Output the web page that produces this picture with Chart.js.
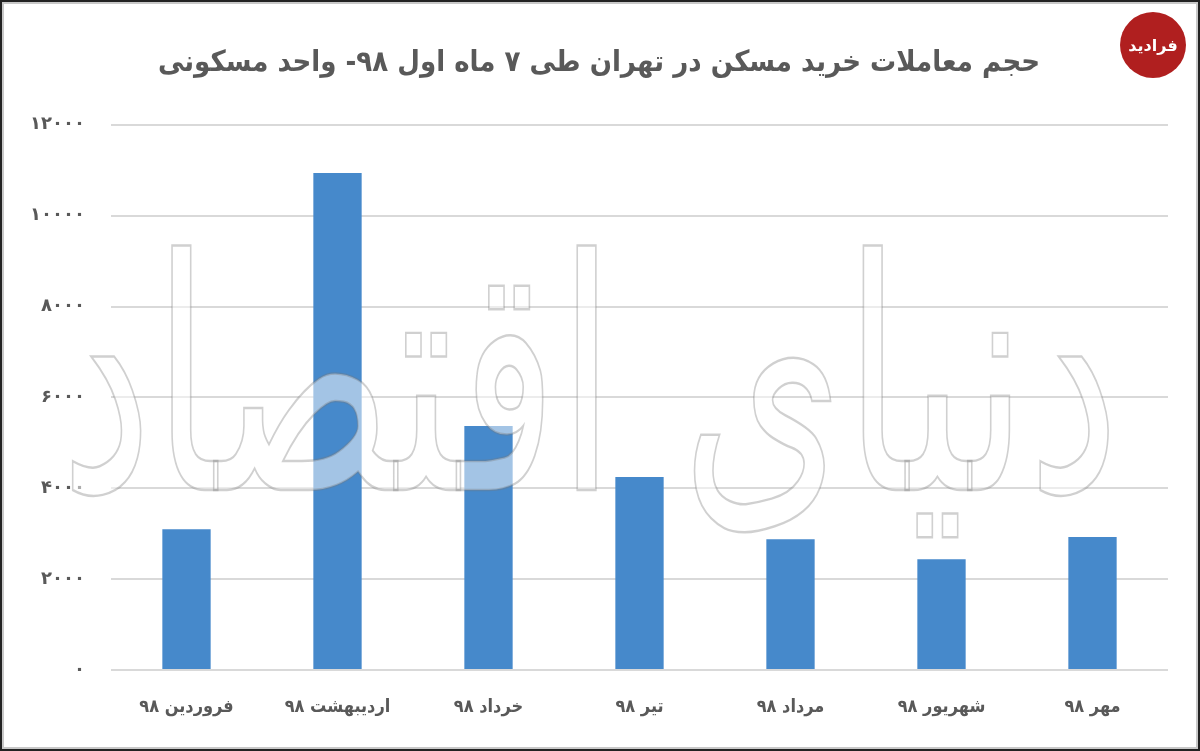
<!DOCTYPE html>
<html>
<head>
<meta charset="utf-8">
<script src="https://cdn.jsdelivr.net/npm/chart.js@4"></script>
<style>
    html, body { margin: 0; padding: 0; background: #fff; }
    #wrap { position: relative; width: 1200px; height: 751px; overflow: hidden; }
    #frame {
        position: absolute; left: 0; top: 0; right: 0; bottom: 0;
        border: 2px solid #222; box-shadow: inset 0 0 0 2px #c8c8c8;
        pointer-events: none;
    }
    #logo {
        position: absolute; left: 1120px; top: 12px; width: 66px; height: 66px;
        border-radius: 50%; background: #b01f1f; color: #fff;
        font: bold 16px 'DejaVu Sans', sans-serif; direction: rtl;
        display: flex; align-items: center; justify-content: center;
    }
</style>
</head>
<body>
<div id="wrap">
    <canvas id="chart" width="1200" height="751"></canvas>
    <div id="logo">فرادید</div>
    <div id="frame"></div>
</div>
<script>
// data
const months = ['فروردین ۹۸', 'اردیبهشت ۹۸', 'خرداد ۹۸', 'تیر ۹۸', 'مرداد ۹۸', 'شهریور ۹۸', 'مهر ۹۸'];
const deals = [3100, 10940, 5370, 4250, 2880, 2440, 2930];
const yTicks = [0, 2000, 4000, 6000, 8000, 10000, 12000];

const titleText = 'حجم معاملات خرید مسکن در تهران طی ۷ ماه اول ۹۸- واحد مسکونی';
const watermark = 'دنیای اقتصاد';
const fontFam = "'DejaVu Sans', sans-serif";
const narrowFam = "'DejaVu Sans Condensed', 'DejaVu Sans', sans-serif";

function toPersian(n) {
    const digits = '۰۱۲۳۴۵۶۷۸۹';
    return String(n).replace(/[0-9]/g, d => digits[d]);
}

// faint outlined watermark across the plot, stretched up like the original
const watermarkPlugin = {
    id: 'watermark',
    afterDatasetsDraw(chart) {
        const ctx = chart.ctx;
        ctx.save();
        ctx.direction = 'rtl';
        ctx.textAlign = 'center';
        ctx.textBaseline = 'alphabetic';
        let size = 200;
        ctx.font = `${size}px ${fontFam}`;
        const w = ctx.measureText(watermark).width;
        size = size * 1060 / w;
        ctx.font = `${size}px ${fontFam}`;
        ctx.translate(590, 490);
        ctx.scale(1, 1.55);
        ctx.fillStyle = 'rgba(255,255,255,0.5)';
        ctx.strokeStyle = 'rgba(120,120,120,0.35)';
        ctx.lineWidth = 1.6;
        ctx.fillText(watermark, 0, 0);
        ctx.strokeText(watermark, 0, 0);
        ctx.restore();
    }
};

new Chart(document.getElementById('chart'), {
    type: 'bar',
    data: {
        labels: months,
        datasets: [{
            data: deals,
            backgroundColor: '#4689cb',
            categoryPercentage: 1,
            barPercentage: 0.32
        }]
    },
    options: {
        responsive: false,
        animation: false,
        layout: { padding: { left: 30, right: 32, top: 0, bottom: 0 } },
        plugins: {
            legend: { display: false },
            tooltip: { enabled: false },
            title: {
                display: true,
                text: titleText,
                color: '#595959',
                font: { family: narrowFam, size: 29, weight: 'bold', lineHeight: 1.2 },
                padding: { top: 46, bottom: 44 }
            }
        },
        scales: {
            x: {
                afterFit(scale) { scale.height = 81; },
                grid: { display: false, drawTicks: false },
                border: { display: false },
                ticks: {
                    color: '#595959',
                    padding: 27,
                    font: { family: narrowFam, size: 18, weight: 'bold' }
                }
            },
            y: {
                min: 0,
                max: 12000,
                afterFit(scale) { scale.width = 81; },
                afterBuildTicks(scale) { scale.ticks = yTicks.map(v => ({ value: v })); },
                grid: { color: '#d9d9d9', lineWidth: 2, drawTicks: false },
                border: { display: false },
                ticks: {
                    color: '#595959',
                    padding: 26,
                    font: { family: fontFam, size: 18, weight: 'bold' },
                    callback: v => toPersian(v)
                }
            }
        }
    },
    plugins: [watermarkPlugin]
});
</script>
</body>
</html>
